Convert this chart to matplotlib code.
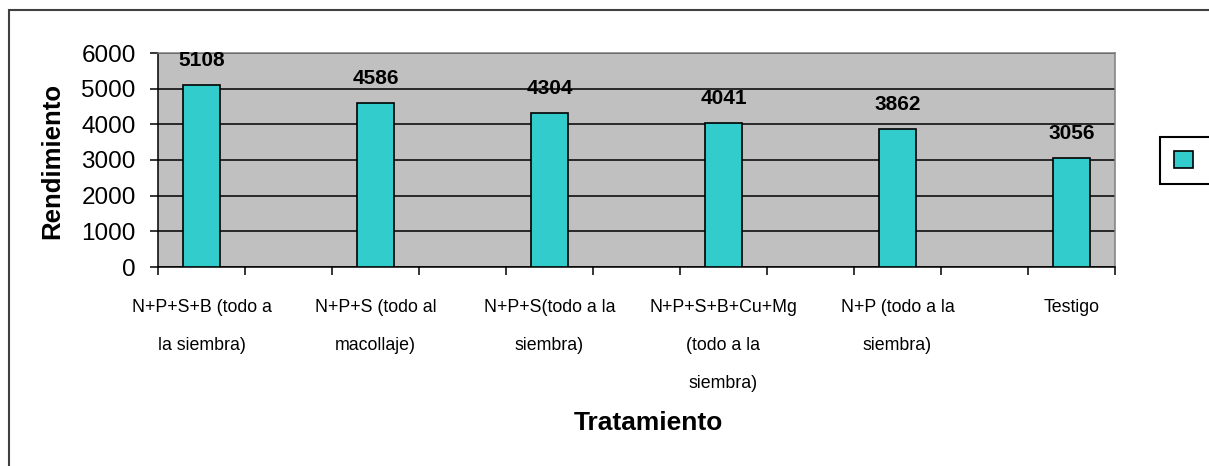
import matplotlib
matplotlib.use('Agg')
import matplotlib.pyplot as plt
from matplotlib.patches import Rectangle

# datos del ensayo
tratamientos = [
    'N+P+S+B (todo a\nla siembra)',
    'N+P+S (todo al\nmacollaje)',
    'N+P+S(todo a la\nsiembra)',
    'N+P+S+B+Cu+Mg\n(todo a la\nsiembra)',
    'N+P (todo a la\nsiembra)',
    'Testigo',
]
rendimiento = [5108, 4586, 4304, 4041, 3862, 3056]
posiciones = [0, 2, 4, 6, 8, 10]
yticks = [0, 1000, 2000, 3000, 4000, 5000, 6000]

plt.rcParams['font.family'] = ['Liberation Sans', 'DejaVu Sans']

W, H = 1209, 466
fig = plt.figure(figsize=(W / 100, H / 100), dpi=100)

# marco exterior (cortado a la derecha y abajo)
fig.patches.append(Rectangle((9 / W, -0.1), 1.1, 1 - 10 / H + 0.1,
                             transform=fig.transFigure, fill=False,
                             edgecolor='#404040', linewidth=1.5))

ax = fig.add_axes([158 / W, 1 - 267 / H, 957 / W, 214 / H])
ax.set_facecolor('#c0c0c0')

bars = ax.bar(posiciones, rendimiento, width=0.42, color='#33cccc',
              edgecolor='black', linewidth=1.2, zorder=3)

ax.set_xlim(-0.5, 10.5)
ax.set_ylim(0, 6000)
ax.set_yticks(yticks)
ax.yaxis.grid(True, color='black', linewidth=1.1)
ax.set_axisbelow(True)
ax.tick_params(axis='y', direction='out', length=6, width=1.1,
               labelsize=17.5, pad=10)

ax.set_xticks(posiciones, tratamientos)
ax.set_xticks([i - 0.5 for i in range(12)], minor=True)
ax.tick_params(axis='x', which='major', length=0, labelsize=12.8, pad=23)
ax.tick_params(axis='x', which='minor', direction='out', length=6, width=1.1)
plt.setp(ax.get_xticklabels(), linespacing=2.6)

for s in ['top', 'right']:
    ax.spines[s].set_color('#808080')
    ax.spines[s].set_linewidth(1.1)
for s in ['left', 'bottom']:
    ax.spines[s].set_color('black')
    ax.spines[s].set_linewidth(1.1)

ax.bar_label(bars, padding=11, fontsize=15, fontweight='bold')

fig.text(52 / W, 1 - 161 / H, 'Rendimiento', rotation=90, ha='center',
         va='center', fontsize=18.5, fontweight='bold')
fig.text(648 / W, 1 - 423 / H, 'Tratamiento', ha='center', va='center',
         fontsize=19, fontweight='bold')

leg = ax.legend([bars], ['        '], loc='upper left',
                bbox_to_anchor=(1160 / W, 1 - 137 / H),
                bbox_transform=fig.transFigure, fancybox=False,
                edgecolor='black', framealpha=1, borderaxespad=0,
                fontsize=14, handlelength=1.0, handleheight=1.0,
                borderpad=0.7)
leg.get_frame().set_linewidth(1.5)

fig.savefig('out.png', dpi=100)
